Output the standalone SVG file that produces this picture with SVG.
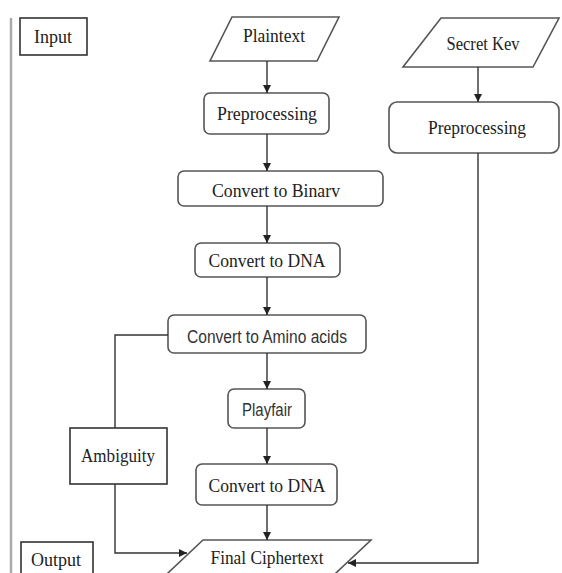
<svg xmlns="http://www.w3.org/2000/svg" width="562" height="573" viewBox="0 0 562 573">
<defs>
<marker id="arr" markerWidth="8" markerHeight="8" refX="8" refY="4" orient="auto" markerUnits="userSpaceOnUse">
<path d="M0,0 L8,4 L0,8 Z" fill="#222"/>
</marker>
<style>
.box{fill:#fff;stroke:#555;stroke-width:1.6}
.lbl{fill:#fff;stroke:#333;stroke-width:1.6}
.serif{font-family:"Liberation Serif","Times New Roman",serif;font-size:19px;fill:#222;text-anchor:middle}
.sans{font-family:"Liberation Sans",Arial,sans-serif;font-size:17.5px;fill:#333;text-anchor:middle}
.conn{fill:none;stroke:#333;stroke-width:1.4}
</style>
</defs>
<rect width="562" height="573" fill="#fff"/>
<line x1="11" y1="18" x2="11" y2="573" stroke="#aaa" stroke-width="2.5"/>
<g id="input"><rect class="lbl" x="20" y="18" width="67" height="37"/><text class="serif" x="53" y="43" textLength="38" lengthAdjust="spacingAndGlyphs">Input</text></g>
<g id="output"><rect class="lbl" x="21" y="542" width="72" height="45"/><text class="serif" x="56" y="566" textLength="50" lengthAdjust="spacingAndGlyphs">Output</text></g>
<g id="plaintext"><polygon class="box" points="232,17 339,17 317,61 210,61"/><text class="serif" x="274" y="42" textLength="62" lengthAdjust="spacingAndGlyphs">Plaintext</text></g>
<g id="secretkey"><polygon class="box" points="441,18 559,18 533,67 403,67"/><text class="serif" x="483" y="50" textLength="73" lengthAdjust="spacingAndGlyphs">Secret Kev</text></g>
<g id="preprocessing1"><rect class="box" x="204" y="93" width="125" height="41" rx="6"/><text class="serif" x="267" y="120" textLength="100" lengthAdjust="spacingAndGlyphs">Preprocessing</text></g>
<g id="preprocessing2"><rect class="box" x="389" y="102" width="170" height="51" rx="8"/><text class="serif" x="477" y="134" textLength="98" lengthAdjust="spacingAndGlyphs">Preprocessing</text></g>
<g id="binary"><rect class="box" x="178" y="171" width="205" height="35" rx="6"/><text class="serif" x="276" y="197" textLength="128" lengthAdjust="spacingAndGlyphs">Convert to Binarv</text></g>
<g id="dna1"><rect class="box" x="195" y="243" width="145" height="34" rx="6"/><text class="serif" x="267" y="267" textLength="117" lengthAdjust="spacingAndGlyphs">Convert to DNA</text></g>
<g id="amino"><rect class="box" x="168" y="315" width="198" height="38" rx="6"/><text class="sans" x="267" y="343" textLength="160" lengthAdjust="spacingAndGlyphs">Convert to Amino acids</text></g>
<g id="playfair"><rect class="box" x="228" y="389" width="77" height="39" rx="6"/><text class="sans" x="267" y="416" textLength="50" lengthAdjust="spacingAndGlyphs">Playfair</text></g>
<g id="ambiguity"><rect class="lbl" x="70" y="428" width="97" height="56"/><text class="serif" x="118" y="462" textLength="74" lengthAdjust="spacingAndGlyphs">Ambiguity</text></g>
<g id="dna2"><rect class="box" x="196" y="464" width="141" height="41" rx="6"/><text class="serif" x="267" y="492" textLength="117" lengthAdjust="spacingAndGlyphs">Convert to DNA</text></g>
<g id="final"><polygon class="box" points="203,540 371,540 320,588 152,588"/><text class="serif" x="267" y="564" textLength="113" lengthAdjust="spacingAndGlyphs">Final Ciphertext</text></g>
<g id="connectors">
<path class="conn" d="M267,61 V93" marker-end="url(#arr)"/>
<path class="conn" d="M267,134 V171" marker-end="url(#arr)"/>
<path class="conn" d="M267,206 V243" marker-end="url(#arr)"/>
<path class="conn" d="M267,277 V315" marker-end="url(#arr)"/>
<path class="conn" d="M267,353 V389" marker-end="url(#arr)"/>
<path class="conn" d="M267,428 V464" marker-end="url(#arr)"/>
<path class="conn" d="M267,505 V540" marker-end="url(#arr)"/>
<path class="conn" d="M478,67 V102" marker-end="url(#arr)"/>
<path class="conn" d="M478,153 V563 H348" marker-end="url(#arr)"/>
<path class="conn" d="M168,335 H115 V428"/>
<path class="conn" d="M115,484 V553 H187" marker-end="url(#arr)"/>
</g>
</svg>
